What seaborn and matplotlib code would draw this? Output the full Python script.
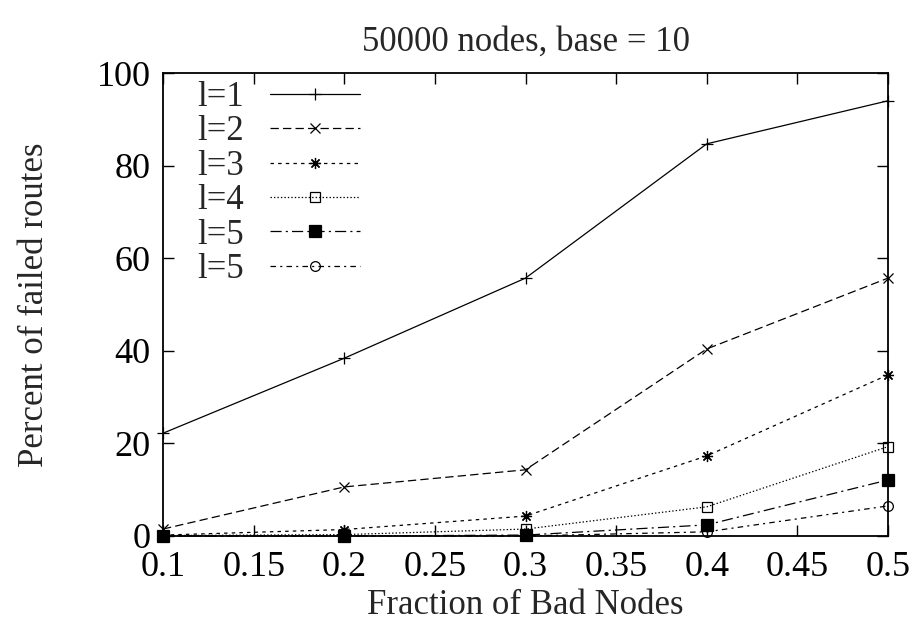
import matplotlib
matplotlib.use("Agg")
import matplotlib.pyplot as plt
import seaborn as sns
import pandas as pd

# ---- data ----
x_vals = [0.1, 0.2, 0.3, 0.4, 0.5]
l1 = [22.2, 38.4, 55.7, 84.7, 94.0]
l2 = [1.5, 10.6, 14.3, 40.4, 55.7]
l3 = [0.2, 1.4, 4.3, 17.3, 34.8]
l4 = [0.1, 0.3, 1.5, 6.3, 19.3]
l5 = [0.0, 0.0, 0.2, 2.4, 12.1]
l6 = [0.0, 0.0, 0.0, 0.9, 6.5]
labels = ["l=1", "l=2", "l=3", "l=4", "l=5", "l=5"]
x_ticks = [0.1, 0.15, 0.2, 0.25, 0.3, 0.35, 0.4, 0.45, 0.5]
x_tick_labels = ["0.1", "0.15", "0.2", "0.25", "0.3", "0.35", "0.4", "0.45", "0.5"]
y_ticks = [0, 20, 40, 60, 80, 100]
title = "50000 nodes, base = 10"
xlabel = "Fraction of Bad Nodes"
ylabel = "Percent of failed routes"

series = [l1, l2, l3, l4, l5, l6]

sns.set_style("ticks")
plt.rcParams["font.family"] = ["Liberation Serif", "DejaVu Serif"]
plt.rcParams["lines.scale_dashes"] = False

fig = plt.figure(figsize=(9.16, 6.41), dpi=100)
ax = fig.add_axes([163 / 916, 1 - 536 / 641, 725 / 916, 463 / 641])

styles = [
    dict(linestyle="-", marker="+", ms=9, mfc="black"),
    dict(linestyle=(0, (6, 3)), marker="x", ms=7, mfc="black"),
    dict(linestyle=(0, (2.5, 3)), marker=(8, 2, 0), ms=8, mfc="black"),
    dict(linestyle=(0, (1, 1.5)), marker="s", ms=7, mfc="none"),
    dict(linestyle=(0, (8, 3, 1.5, 3)), marker="s", ms=8, mfc="black"),
    dict(linestyle=(0, (4, 3, 1.5, 3)), marker="o", ms=7, mfc="none"),
]

for vals, lab, st in zip(series, labels, styles):
    df = pd.DataFrame({"x": x_vals, "y": vals})
    sns.lineplot(data=df, x="x", y="y", ax=ax, color="black", linewidth=0.9,
                 linestyle=st["linestyle"], marker=st["marker"], markersize=st["ms"],
                 markerfacecolor=st["mfc"], markeredgecolor="black",
                 markeredgewidth=0.9, label=lab, clip_on=False)

ax.set_xlim(0.1, 0.5)
ax.set_ylim(0, 100)
ax.set_xticks(x_ticks)
ax.set_xticklabels(x_tick_labels)
ax.set_yticks(y_ticks)
ax.tick_params(axis="both", which="major", direction="in", length=8, width=1,
               top=True, right=True, labelsize=26, colors="black")
ax.tick_params(axis="x", pad=11)
ax.tick_params(axis="y", pad=9)
for sp in ax.spines.values():
    sp.set_linewidth(1.3)
    sp.set_color("black")

ax.set_title(title, fontsize=25, pad=16)
ax.set_xlabel(xlabel, fontsize=25)
ax.set_ylabel(ylabel, fontsize=25)
ax.xaxis.set_label_coords(0.5, -0.115)
ax.yaxis.set_label_coords(-0.155, 0.5)

ax.legend(loc="upper left", bbox_to_anchor=(34 / 725, 1 - 8 / 463), markerfirst=False,
          frameon=False, fontsize=25, handlelength=2.6, handletextpad=0.75,
          labelspacing=0.04, borderaxespad=0, borderpad=0)

fig.savefig("out.png", dpi=100)
